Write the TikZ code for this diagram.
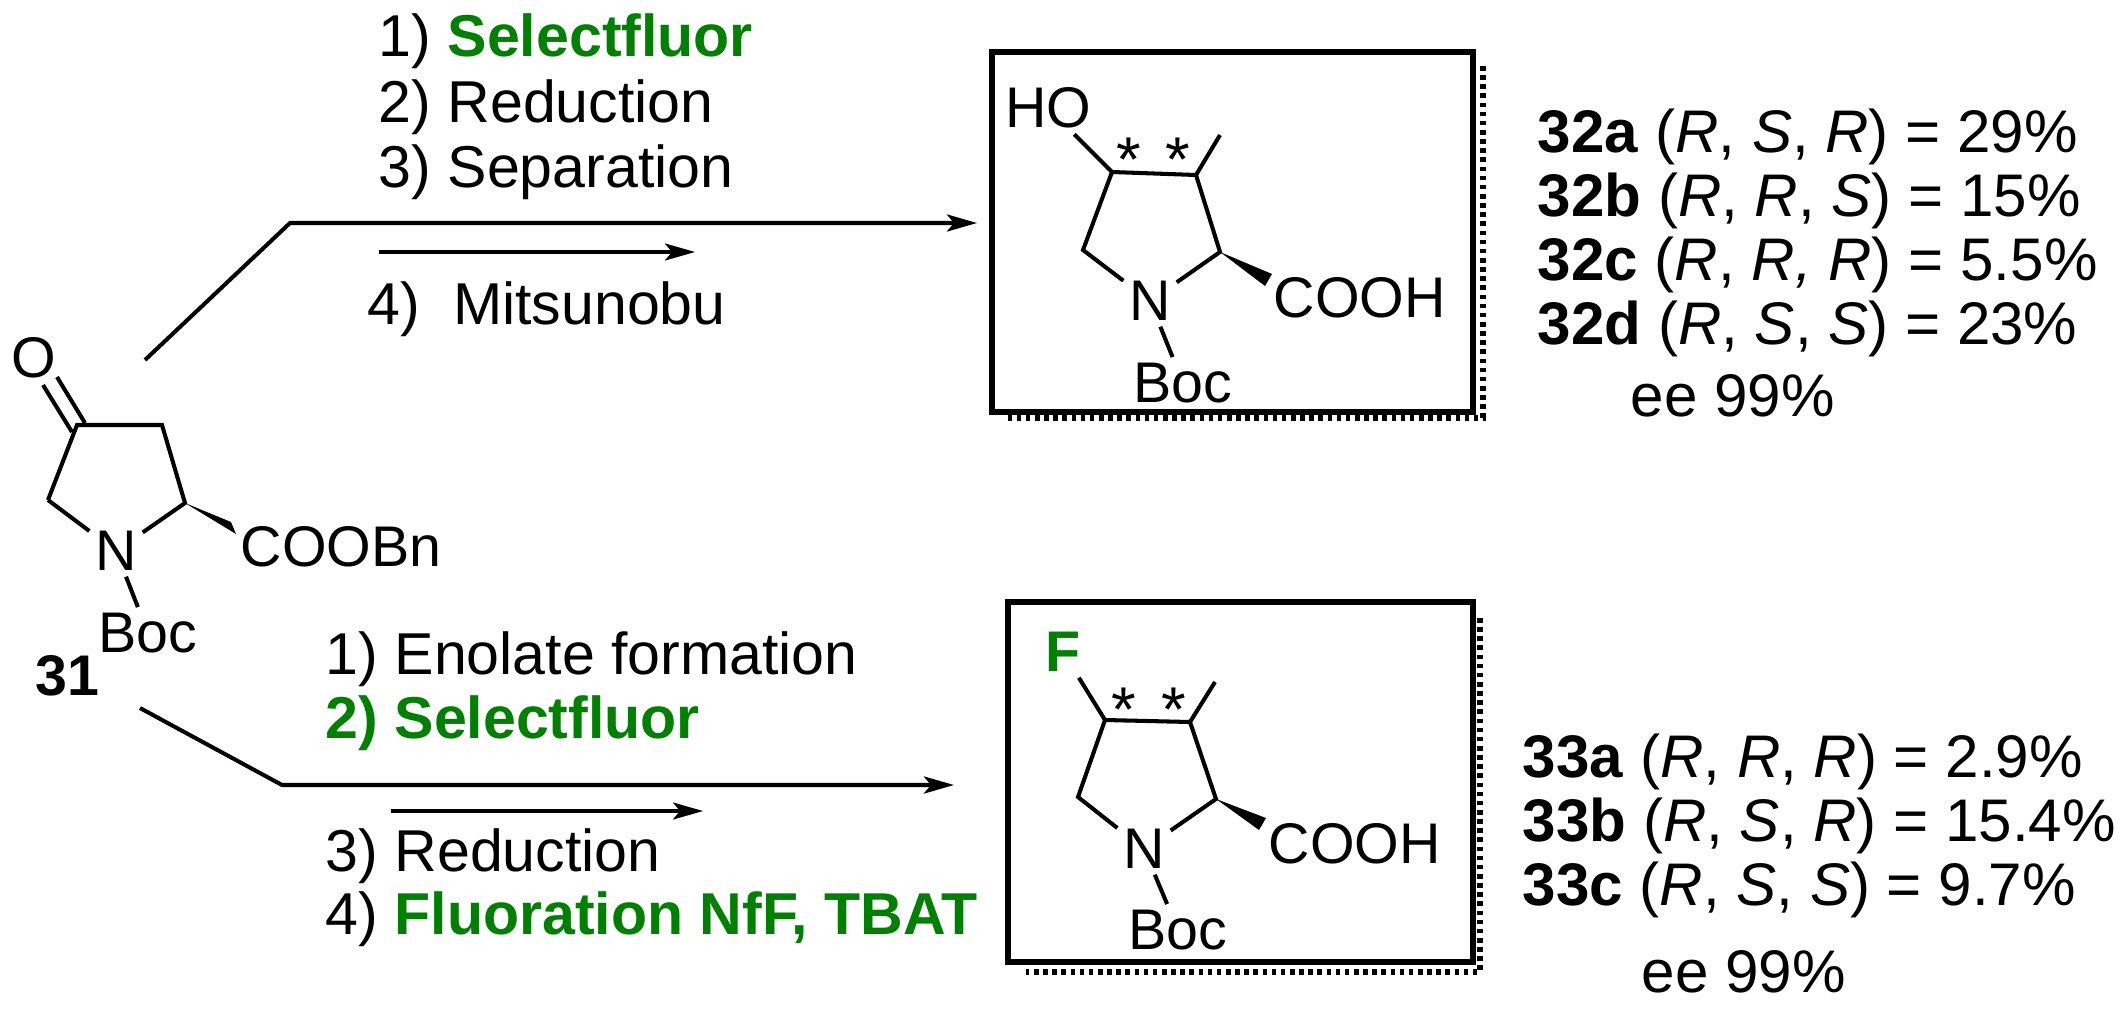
\documentclass[tikz,border=0pt]{standalone}
\usepackage{fontspec}
\setmainfont{Liberation Sans}
\usetikzlibrary{arrows.meta}
\definecolor{grn}{RGB}{0,128,0}
\begin{document}
\begin{tikzpicture}[x=0.01cm,y=-0.01cm,
  bond/.style={line width=1.15pt},
  atom/.style={inner sep=1.5pt,font=\fontsize{16.3}{19}\selectfont},
  txt/.style={inner sep=0pt,font=\fontsize{16.8}{19}\selectfont,anchor=base west},
  ytxt/.style={inner sep=0pt,font=\fontsize{17.1}{20}\selectfont,anchor=base west},
  star/.style={inner sep=1pt,font=\fontsize{18}{18}\selectfont},
  rxn/.style={line width=1.15pt,-{Stealth[length=0.3cm,width=0.17cm,inset=0.07cm]}},
  box/.style={line width=1.5pt},
  shad/.style={line width=1.6pt,dash pattern=on 1.3pt off 1.3pt}]
\useasboundingbox (0,0) rectangle (2125,1012);
% ---- compound 31 ----
\node[atom] (O31) at (34,358) {O};
\coordinate (a3) at (77,425); \coordinate (a4) at (162,425);
\coordinate (a5) at (185,503); \coordinate (a2) at (48,500);
\node[atom] (N31) at (116,551) {N};
\node[atom] (B31) at (148,633) {Boc};
\node[atom,anchor=west,inner sep=0pt] (E31) at (240,547) {COOBn};
\node[txt,font=\fontsize{16.3}{19}\selectfont\bfseries] (L31) at (35,695) {31};
\draw[bond] (43,385) -- (72,432) (57,377) -- (85,423);
\draw[bond] (a2) -- (a3) -- (a4) -- (a5) -- (N31) -- (a2);
\draw[bond] (N31) -- (B31);
\fill (a5) -- (231,522) -- (236,534) -- cycle;
% ---- top reaction ----
\coordinate (t0) at (145,360); \coordinate (t1) at (290,223); \coordinate (t2) at (977,223);
\draw[rxn] (t0) -- (t1) -- (t2);
\coordinate (s0) at (379,252); \coordinate (s1) at (695,252);
\draw[rxn,line width=0.9pt] (s0) -- (s1);
\node[txt] (c1) at (378,57) {1) \textcolor{grn}{\bfseries Selectfluor}};
\node[txt] (c2) at (378,122) {2) Reduction};
\node[txt] (c3) at (378,187) {3) Separation};
\node[txt] (c4) at (367,324) {4)\ \ Mitsunobu};
% ---- bottom reaction ----
\coordinate (b0) at (140,708); \coordinate (b1) at (282,785); \coordinate (b2) at (954,785);
\draw[rxn] (b0) -- (b1) -- (b2);
\coordinate (u0) at (391,811); \coordinate (u1) at (703,811);
\draw[rxn,line width=0.9pt] (u0) -- (u1);
\node[txt] (d1) at (325,674) {1) Enolate formation};
\node[txt,text=grn,font=\fontsize{16.8}{19}\selectfont\bfseries] (d2) at (325,738) {2) Selectfluor};
\node[txt] (d3) at (325,871) {3) Reduction};
\node[txt] (d4) at (325,934) {4) \textcolor{grn}{\bfseries Fluoration NfF, TBAT}};
% ---- top product box ----
\draw[box] (992,52) rectangle (1473,412);
\draw[shad] (1483,66) -- (1483,418) -- (1006,418);
\node[atom] (HO) at (1048,108) {HO};
\coordinate (p4) at (1112,172); \coordinate (p3) at (1196,175);
\coordinate (pm) at (1220,135); \coordinate (p2) at (1220,252);
\coordinate (p5) at (1083,250);
\node[atom] (NP) at (1150,301) {N};
\node[atom] (BP) at (1183,383) {Boc};
\node[atom,anchor=west,inner sep=0pt] (CP) at (1273,298) {COOH};
\draw[bond] (HO) -- (p4) -- (p3) -- (p2) -- (NP) -- (p5) -- (p4);
\draw[bond] (p3) -- (pm);
\draw[bond] (NP) -- (BP);
\fill (p2) -- (1265,286) -- (1272,274) -- cycle;
\node[star] (s1a) at (1129,160) {*};
\node[star] (s1b) at (1178,160) {*};
% ---- bottom product box ----
\draw[box] (1008,602) rectangle (1473,962);
\draw[shad] (1480,618) -- (1480,972) -- (1026,972);
\node[atom,text=grn,font=\fontsize{16.3}{19}\selectfont\bfseries] (FF) at (1063,652) {F};
\coordinate (q4) at (1105,720); \coordinate (q3) at (1190,722);
\coordinate (qm) at (1215,682); \coordinate (q2) at (1216,799);
\coordinate (q5) at (1078,797);
\node[atom] (NQ) at (1144,849) {N};
\node[atom] (BQ) at (1178,930) {Boc};
\node[atom,anchor=west,inner sep=0pt] (CQ) at (1268,844) {COOH};
\draw[bond] (FF) -- (q4) -- (q3) -- (q2) -- (NQ) -- (q5) -- (q4);
\draw[bond] (q3) -- (qm);
\draw[bond] (NQ) -- (BQ);
\fill (q2) -- (1259,830) -- (1266,818) -- cycle;
\node[star] (s2a) at (1124,710) {*};
\node[star] (s2b) at (1174,710) {*};
% ---- yields ----
\node[ytxt] (y1) at (1537,152) {\textbf{32a} (\textit{R}, \textit{S}, \textit{R}) = 29\%};
\node[ytxt] (y2) at (1537,216) {\textbf{32b} (\textit{R}, \textit{R}, \textit{S}) = 15\%};
\node[ytxt] (y3) at (1537,280) {\textbf{32c} (\textit{R}, \textit{R, R}) = 5.5\%};
\node[ytxt] (y4) at (1537,344) {\textbf{32d} (\textit{R}, \textit{S}, \textit{S}) = 23\%};
\node[ytxt] (e1) at (1630,416) {ee 99\%};
\node[ytxt] (z1) at (1522,777) {\textbf{33a} (\textit{R}, \textit{R}, \textit{R}) = 2.9\%};
\node[ytxt] (z2) at (1522,841) {\textbf{33b} (\textit{R}, \textit{S}, \textit{R}) = 15.4\%};
\node[ytxt] (z3) at (1522,905) {\textbf{33c} (\textit{R}, \textit{S}, \textit{S}) = 9.7\%};
\node[ytxt] (e2) at (1641,992) {ee 99\%};
\end{tikzpicture}
\end{document}
